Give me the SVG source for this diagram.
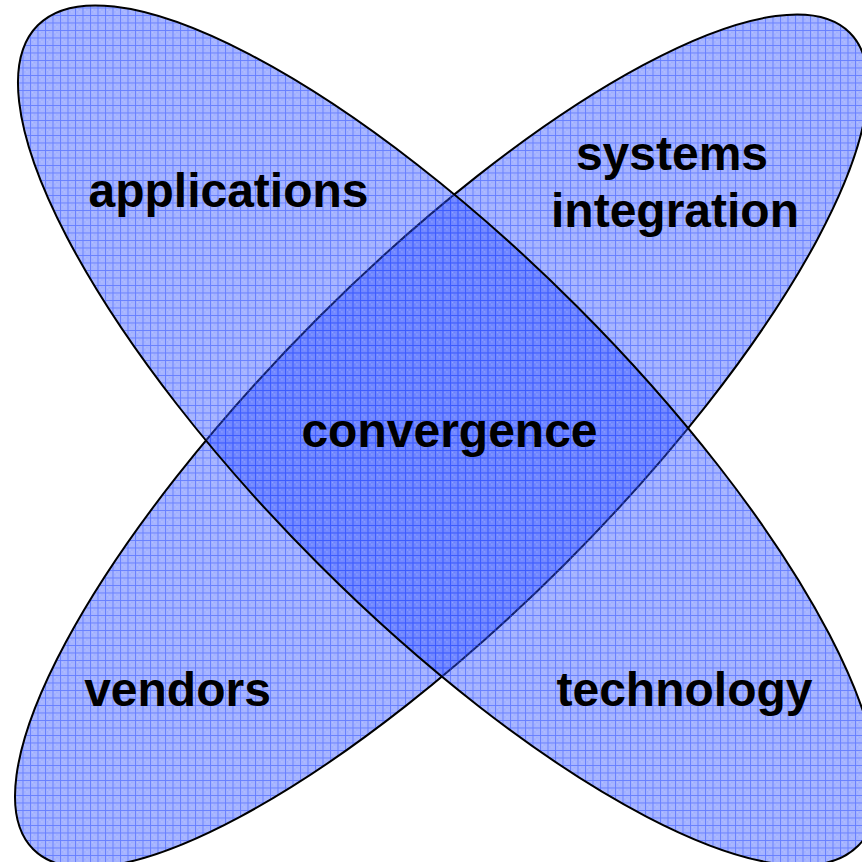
<svg xmlns="http://www.w3.org/2000/svg" width="862" height="862" viewBox="0 0 862 862">
  <defs>
    <pattern id="grid1" x="0" y="0" width="7.5" height="7.5" patternUnits="userSpaceOnUse" patternTransform="rotate(-45 448 435.5)">
      <rect x="0" y="0" width="7.5" height="7.5" fill="#2a4bff" fill-opacity="0.42"/>
      <rect x="2" y="2" width="1" height="1" fill="#ffffff" fill-opacity="0.25"/>
      <rect x="4" y="4" width="1" height="1" fill="#ffffff" fill-opacity="0.25"/>
      <rect x="2" y="4" width="1" height="1" fill="#2a4bff" fill-opacity="0.15"/>
      <rect x="4" y="2" width="1" height="1" fill="#2a4bff" fill-opacity="0.15"/>
      <path d="M0 0.5 H7.5 M0.5 0 V7.5" stroke="#2a4bff" stroke-opacity="0.5" stroke-width="1" fill="none"/>
    </pattern>
    <pattern id="grid2" href="#grid1" patternTransform="rotate(45 441.5 441)"/>
  </defs>
  <style>
    .petal { stroke: #000000; stroke-width: 2; }
    .label { font-family: "Liberation Sans", Arial, sans-serif; font-weight: bold; font-size: 48px; fill: #000000; text-anchor: middle; }
  </style>
  <rect x="0" y="0" width="862" height="862" fill="#ffffff"/>
  <g id="ellipse-vendors-systems">
    <ellipse class="petal" fill="url(#grid2)" cx="441.5" cy="441" rx="577.4" ry="174.3" transform="rotate(-45 441.5 441)"/>
  </g>
  <g id="ellipse-applications-technology">
    <ellipse class="petal" fill="url(#grid1)" cx="448" cy="435.5" rx="580.1" ry="182.5" transform="rotate(45 448 435.5)"/>
  </g>
  <g id="labels">
    <text id="applications" class="label" x="228.5" y="207">applications</text>
    <text id="systems-integration" class="label" x="672" y="170">systems<tspan x="675" y="227">integration</tspan></text>
    <text id="convergence" class="label" x="449.5" y="447">convergence</text>
    <text id="vendors" class="label" x="177.5" y="706">vendors</text>
    <text id="technology" class="label" x="684.5" y="706">technology</text>
  </g>
</svg>
